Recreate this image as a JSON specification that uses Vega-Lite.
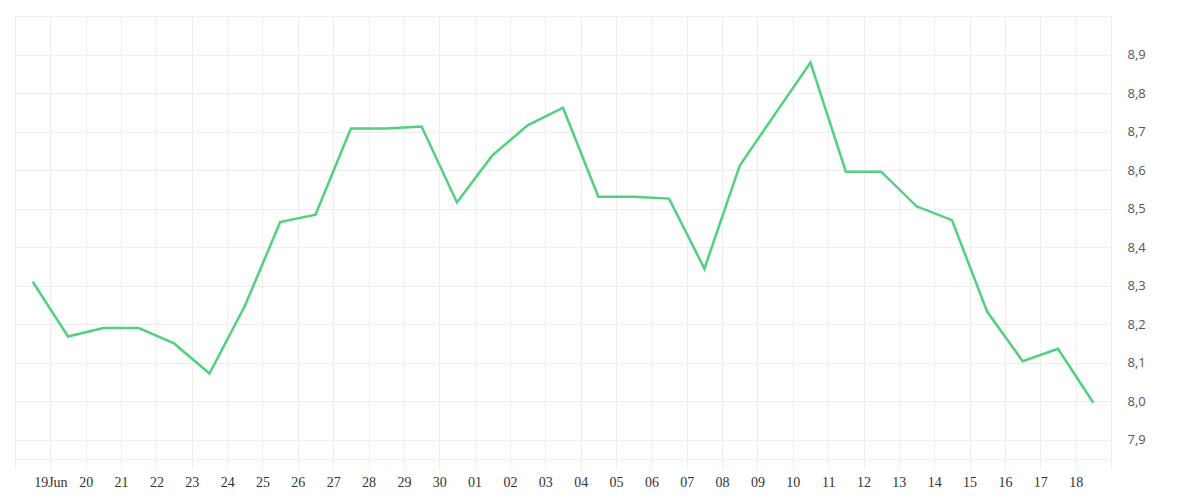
{
  "$schema": "https://vega.github.io/schema/vega-lite/v6.json",
  "width": 1096,
  "height": 443,
  "autosize": {"type": "none"},
  "padding": {"left": 15, "top": 16, "right": 89, "bottom": 41},
  "background": "white",
  "config": {"view": {"stroke": null}},
  "data": {
    "values": [
      {"date": "2024-06-18T12:00:00Z", "value": 8.31},
      {"date": "2024-06-19T12:00:00Z", "value": 8.168},
      {"date": "2024-06-20T12:00:00Z", "value": 8.19},
      {"date": "2024-06-21T12:00:00Z", "value": 8.19},
      {"date": "2024-06-22T12:00:00Z", "value": 8.15},
      {"date": "2024-06-23T12:00:00Z", "value": 8.072},
      {"date": "2024-06-24T12:00:00Z", "value": 8.247},
      {"date": "2024-06-25T12:00:00Z", "value": 8.465},
      {"date": "2024-06-26T12:00:00Z", "value": 8.484},
      {"date": "2024-06-27T12:00:00Z", "value": 8.708},
      {"date": "2024-06-28T12:00:00Z", "value": 8.708},
      {"date": "2024-06-29T12:00:00Z", "value": 8.713},
      {"date": "2024-06-30T12:00:00Z", "value": 8.516},
      {"date": "2024-07-01T12:00:00Z", "value": 8.638},
      {"date": "2024-07-02T12:00:00Z", "value": 8.716},
      {"date": "2024-07-03T12:00:00Z", "value": 8.762},
      {"date": "2024-07-04T12:00:00Z", "value": 8.531},
      {"date": "2024-07-05T12:00:00Z", "value": 8.531},
      {"date": "2024-07-06T12:00:00Z", "value": 8.526},
      {"date": "2024-07-07T12:00:00Z", "value": 8.344},
      {"date": "2024-07-08T12:00:00Z", "value": 8.612},
      {"date": "2024-07-09T12:00:00Z", "value": 8.746},
      {"date": "2024-07-10T12:00:00Z", "value": 8.879},
      {"date": "2024-07-11T12:00:00Z", "value": 8.596},
      {"date": "2024-07-12T12:00:00Z", "value": 8.596},
      {"date": "2024-07-13T12:00:00Z", "value": 8.506},
      {"date": "2024-07-14T12:00:00Z", "value": 8.47},
      {"date": "2024-07-15T12:00:00Z", "value": 8.232},
      {"date": "2024-07-16T12:00:00Z", "value": 8.104},
      {"date": "2024-07-17T12:00:00Z", "value": 8.136},
      {"date": "2024-07-18T12:00:00Z", "value": 7.996}
    ]
  },
  "mark": {"type": "line", "color": "#4fd27b", "strokeWidth": 2.5, "strokeJoin": "miter"},
  "encoding": {
    "x": {
      "field": "date",
      "type": "temporal",
      "scale": {
        "type": "utc",
        "domain": [
          {"year": 2024, "month": 6, "date": 18, "utc": true},
          {"year": 2024, "month": 7, "date": 19, "utc": true}
        ],
        "nice": false
      },
      "axis": {
        "title": null,
        "tickCount": {"interval": "day", "step": 1},
        "grid": true,
        "gridColor": "#eeeeee",
        "gridWidth": 1,
        "domain": true,
        "domainColor": "#eeeeee",
        "domainWidth": 1,
        "ticks": true,
        "tickColor": "#eeeeee",
        "tickSize": 10,
        "labelFont": "Liberation Serif",
        "labelFontSize": 14,
        "labelColor": "#333333",
        "labelPadding": 6,
        "labelOverlap": false,
        "labelFlush": false,
        "labelBound": false,
        "labelExpr": "(utcdate(datum.value)==18 && utcmonth(datum.value)==5) || (utcdate(datum.value)==19 && utcmonth(datum.value)==6) ? '' : ((utcdate(datum.value)==19 && utcmonth(datum.value)==5) ? '19Jun' : utcFormat(datum.value, '%d'))"
      }
    },
    "y": {
      "field": "value",
      "type": "quantitative",
      "scale": {"domain": [7.85, 9.0], "nice": false, "zero": false},
      "axis": {
        "title": null,
        "orient": "right",
        "values": [7.9, 8.0, 8.1, 8.2, 8.3, 8.4, 8.5, 8.6, 8.7, 8.8, 8.9, 9.0],
        "grid": true,
        "gridColor": "#eeeeee",
        "gridWidth": 1,
        "domain": false,
        "ticks": false,
        "labelFont": "Open Sans",
        "labelFontSize": 13,
        "labelColor": "#555555",
        "labelPadding": 16,
        "labelOverlap": false,
        "labelBound": false,
        "labelFlush": false,
        "labelExpr": "datum.value > 8.95 ? '' : replace(format(datum.value, '.1f'), '.', ',')"
      }
    }
  }
}
